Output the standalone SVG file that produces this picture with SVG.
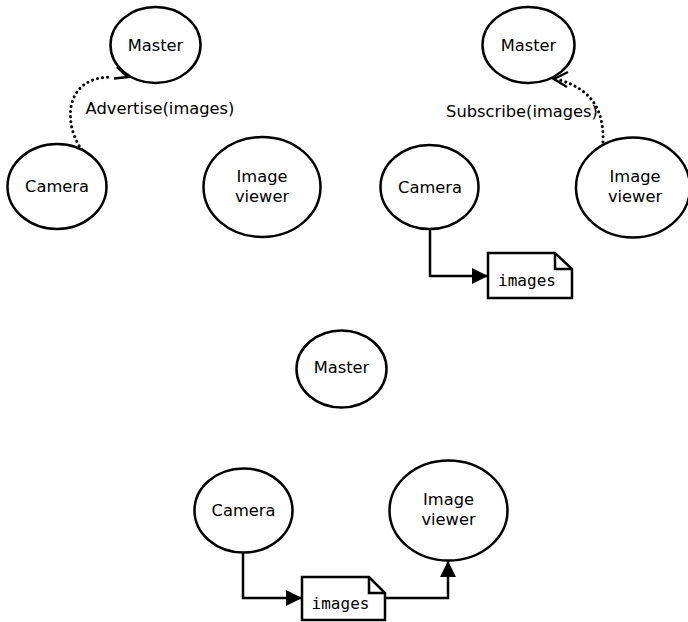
<svg xmlns="http://www.w3.org/2000/svg" width="688" height="622" viewBox="0 0 688 622">
<defs>
<style>
.n{fill:#fff;stroke:#000;stroke-width:2.5}
.t{font-family:"DejaVu Sans",sans-serif;font-size:16.3px;fill:#000;text-anchor:middle}
.m{font-family:"DejaVu Sans Mono",monospace;font-size:16px;fill:#000;text-anchor:middle}
.c{fill:none;stroke:#000;stroke-width:2.5}
.d{fill:none;stroke:#000;stroke-width:3;stroke-dasharray:0.1 5;stroke-linecap:round}
</style>
<marker id="arr" viewBox="0 0 16 16" refX="16" refY="8" markerWidth="16" markerHeight="16" markerUnits="userSpaceOnUse" orient="auto">
<path d="M0,0 L16,8 L0,16 Z" fill="#000"/>
</marker>
</defs>
<rect width="688" height="622" fill="#fff"/>
<g id="connectors">
<path class="d" d="M82,150 C64,126 62,77 112,77"/>
<path class="c" d="M114,78.5 L128,77 L117,67"/>
<path class="d" d="M603,142 C604,110 592,90 560,80"/>
<path class="c" d="M568,72 L554,79 L567,87"/>
<path class="c" d="M430,229 V276 H488" marker-end="url(#arr)"/>
<path class="c" d="M243,553 V598 H302" marker-end="url(#arr)"/>
<path class="c" d="M385,598 H448 V561" marker-end="url(#arr)"/>
</g>
<g id="master1"><ellipse class="n" cx="155.5" cy="45" rx="45" ry="38"/><text class="t" x="155.5" y="51">Master</text></g>
<g id="camera1"><ellipse class="n" cx="57" cy="186.5" rx="49.5" ry="42.5"/><text class="t" x="57" y="192">Camera</text></g>
<g id="viewer1"><ellipse class="n" cx="262" cy="187" rx="58.5" ry="50"/><text class="t" x="262" y="182">Image</text><text class="t" x="262" y="202">viewer</text></g>
<g id="label1"><text class="t" x="160" y="114">Advertise(images)</text></g>
<g id="master2"><ellipse class="n" cx="528.5" cy="45" rx="46" ry="38"/><text class="t" x="528.5" y="51">Master</text></g>
<g id="camera2"><ellipse class="n" cx="429.5" cy="187" rx="49" ry="42"/><text class="t" x="430" y="193">Camera</text></g>
<g id="viewer2"><ellipse class="n" cx="633" cy="187.5" rx="57" ry="50"/><text class="t" x="635" y="182">Image</text><text class="t" x="635" y="202">viewer</text></g>
<g id="label2"><text class="t" x="522" y="117">Subscribe(images)</text></g>
<g id="note2"><path class="n" d="M488,253 H555 L572,269 V298 H488 Z"/><path class="c" d="M555,253 V269 H572"/><text class="m" x="527" y="286">images</text></g>
<g id="master3"><ellipse class="n" cx="341.5" cy="369" rx="45" ry="38.5"/><text class="t" x="341.5" y="373">Master</text></g>
<g id="camera3"><ellipse class="n" cx="243.5" cy="510.5" rx="49" ry="42"/><text class="t" x="243.5" y="516">Camera</text></g>
<g id="viewer3"><ellipse class="n" cx="448.5" cy="510.5" rx="59" ry="50"/><text class="t" x="448.5" y="505">Image</text><text class="t" x="448.5" y="525">viewer</text></g>
<g id="note3"><path class="n" d="M302,577 H369 L385,593 V620 H302 Z"/><path class="c" d="M369,577 V593 H385"/><text class="m" x="340.5" y="609">images</text></g>
</svg>
